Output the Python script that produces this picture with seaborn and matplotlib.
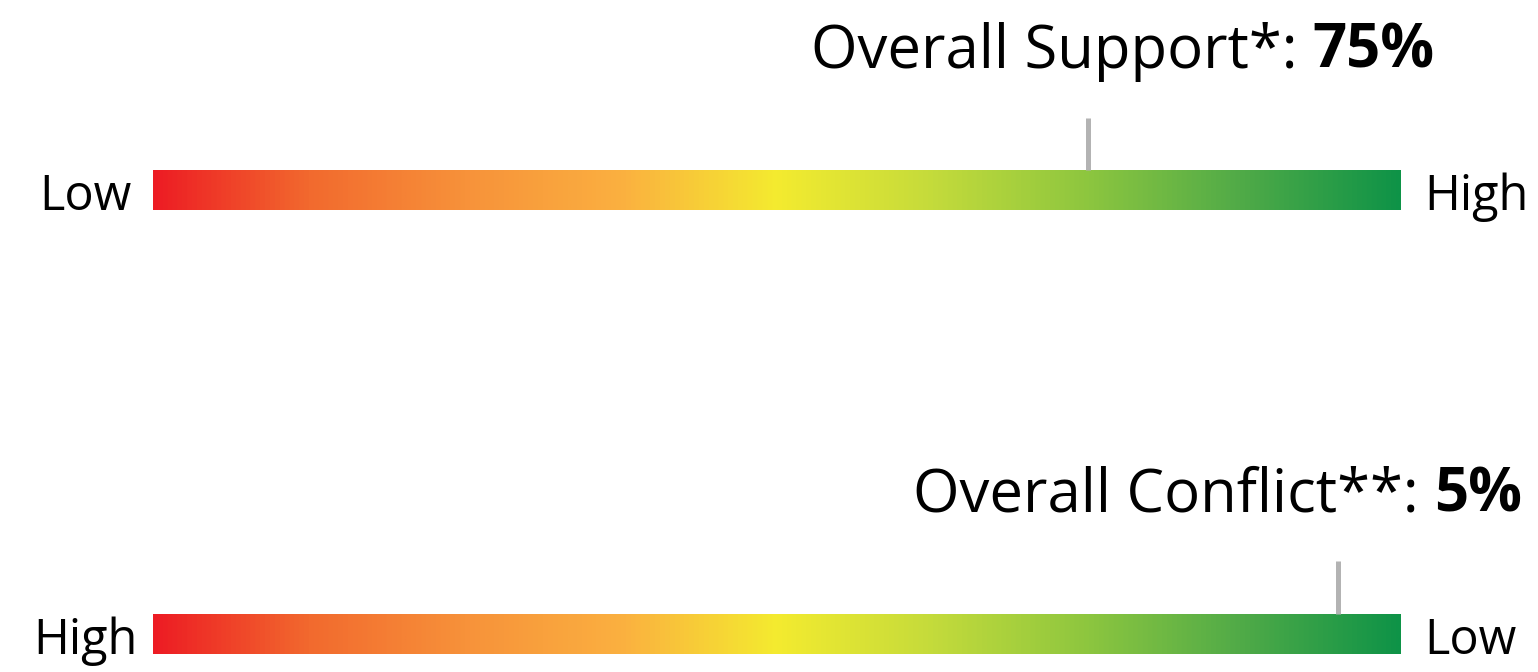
import numpy as np
import matplotlib
matplotlib.use("Agg")
import matplotlib.pyplot as plt
import seaborn as sns

# Scale data
support_value = 75          # percent, higher is better
conflict_value = 5          # percent, lower is better
support_labels = ["Low", "High"]
conflict_labels = ["High", "Low"]
support_title = "Overall Support*: "
conflict_title = "Overall Conflict**: "

# Red -> orange -> yellow -> green ramp
ramp_colors = ["#ED1C24", "#F26A2E", "#F7923A", "#FBB040", "#F4EB2F",
               "#C4DB3B", "#8DC63F", "#4FAA48", "#0E9347"]

sns.set_theme(style="white")
plt.rcParams["font.family"] = ["Open Sans", "DejaVu Sans"]

W, H = 1538, 672
fig = plt.figure(figsize=(W / 100, H / 100), dpi=100)
fig.patch.set_facecolor("white")

cmap = sns.blend_palette(ramp_colors, as_cmap=True)
gradient = np.linspace(0, 1, 1024)[None, :]


def px_axes(x0, y0, x1, y1):
    return fig.add_axes([x0 / W, 1 - y1 / H, (x1 - x0) / W, (y1 - y0) / H])


def fx(x):
    return x / W


def fy(y):
    return 1 - y / H


def draw_scale(bar_top, value, reverse, labels, title, title_right,
               left_label_right, marker_px):
    bar_bottom = bar_top + 40
    ax = px_axes(153, bar_top, 1400, bar_bottom)
    ax.imshow(gradient, cmap=cmap, aspect="auto", extent=[0, 100, 0, 1])
    ax.set_xlim(0, 100)
    ax.set_ylim(0, 1)
    pos = 100 - value if reverse else value
    ax.vlines(pos, 1, 1 + marker_px / 40, colors="#B3B3B3", linewidth=3.6,
              clip_on=False)
    ax.set_axis_off()

    fs = 35
    fig.text(fx(left_label_right), fy(bar_bottom), labels[0], ha="right",
             va="baseline", fontsize=fs, color="black")
    fig.text(fx(1424), fy(bar_bottom), labels[1], ha="left", va="baseline",
             fontsize=fs, color="black")

    # title: regular prefix + bold value, right aligned
    t_val = fig.text(fx(title_right), fy(bar_top - 102), f"{value}%",
                     ha="right", va="baseline", fontsize=43,
                     fontweight="bold", color="black")
    fig.canvas.draw()
    bb = t_val.get_window_extent()
    fig.text(bb.x0 / W, fy(bar_top - 102), title, ha="right", va="baseline",
             fontsize=43, color="black")


draw_scale(170, support_value, False, support_labels, support_title, 1435,
           131, 52)
draw_scale(614, conflict_value, True, conflict_labels, conflict_title, 1522,
           138, 53)

fig.savefig("out.png", dpi=100, facecolor="white")
